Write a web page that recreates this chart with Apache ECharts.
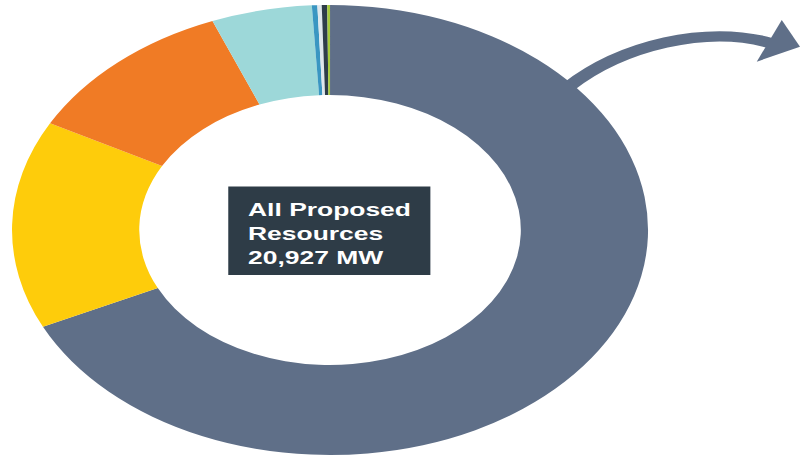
<!DOCTYPE html>
<html>
<head>
<meta charset="utf-8">
<script src="https://cdn.jsdelivr.net/npm/echarts@6/dist/echarts.min.js"></script>
<style>
html, body { margin: 0; padding: 0; background: #fff; overflow: hidden; }
#wrap { width: 800px; height: 456px; overflow: hidden; position: relative; }
/* the original donut is an ellipse: draw a circle and stretch it horizontally */
#donut { width: 566px; height: 456px; transform: scaleX(1.4134); transform-origin: 0 0; }
</style>
</head>
<body>
<div id="wrap"><div id="donut"></div></div>
<script>
// resource types, clockwise from 12 o'clock
const categories = ['Wind', 'Natural Gas', 'Battery Storage', 'Solar', 'Hydro', 'Fuel Cell', 'Nuclear', 'Biomass'];
// MW
const values = [14214, 3127, 2325, 1070, 58, 46, 58, 29];
const totalLabel = ['All Proposed', 'Resources', '20,927 MW'];

function initChart() {
    const chartDom = document.getElementById('donut');
    const myChart = echarts.init(chartDom, null, { renderer: 'svg' });

    const option = {
        animation: false,
        color: ['#5f6f88', '#fecc0b', '#f07b25', '#9dd8d9', '#3a96c2', '#dfe7eb', '#2e3d49', '#a6cb3b'],
        series: [{
            type: 'pie',
            center: [233.5, 230],
            radius: [135, 225],
            startAngle: 90,
            silent: true,
            label: { show: false },
            labelLine: { show: false },
            data: categories.map((name, i) => ({ name: name, value: values[i] }))
        }],
        graphic: [
            // centre label box
            {
                type: 'rect',
                shape: { x: 161.5, y: 186.5, width: 143, height: 88.5 },
                style: { fill: '#2e3c47' }
            },
            {
                type: 'text',
                x: 175.5,
                y: 197,
                style: {
                    text: totalLabel.join('\n'),
                    fill: '#ffffff',
                    font: 'bold 18.7px "Liberation Sans", Arial, sans-serif',
                    lineHeight: 24.2,
                    textVerticalAlign: 'top'
                }
            },
            // curved arrow
            {
                type: 'bezierCurve',
                shape: { x1: 402, y1: 87, cpx1: 440, cpy1: 45, cpx2: 500, cpy2: 25, x2: 545, y2: 43 },
                style: { stroke: '#5f6f88', lineWidth: 10.5, fill: null }
            },
            {
                type: 'polygon',
                shape: { points: [[566, 46.7], [553.1, 20], [535.4, 61.7]] },
                style: { fill: '#5f6f88' }
            }
        ]
    };

    myChart.setOption(option);
}

window.onload = initChart;
</script>
</body>
</html>
